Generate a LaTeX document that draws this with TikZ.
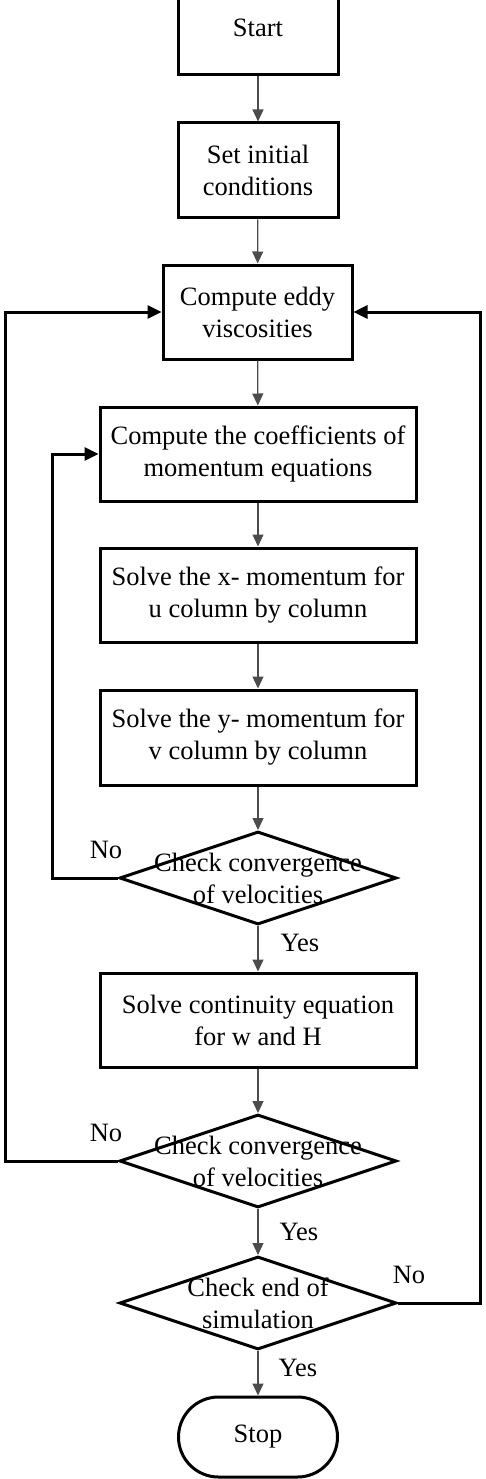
\documentclass[tikz,border=0pt]{standalone}
\usepackage{fontspec}
\setmainfont{Liberation Serif}
\usetikzlibrary{shapes.geometric,shapes.misc,arrows.meta}
\begin{document}
\begin{tikzpicture}[x=1pt,y=1pt,
  every node/.style={font=\fontsize{26.5}{32}\selectfont},
  box/.style={draw, line width=3pt, rectangle, inner sep=0, align=center},
  dia/.style={draw, line width=3pt, diamond, inner sep=0, minimum width=277pt, minimum height=93pt},
  term/.style={draw, line width=3pt, rounded rectangle, inner sep=0, minimum width=159pt, minimum height=80pt},
  txt/.style={align=center, inner sep=0},
  lbl/.style={inner sep=0},
  flow/.style={draw=black!70, line width=1.2pt, -{Triangle[length=12pt,width=11pt]}},
  loop/.style={draw, line width=3pt, -{Triangle[length=14pt,width=13pt]}}
]
\useasboundingbox (0,0) rectangle (485,-1479);
\node[box, minimum width=160pt, minimum height=95pt] (start) at (258,-27.5) {};
\node[txt] at (258,-28) {Start};
\node[box, minimum width=160pt, minimum height=95pt] (init) at (258,-170.5) {Set initial\\conditions};
\node[box, minimum width=189pt, minimum height=94pt] (eddy) at (257.5,-312) {Compute eddy\\viscosities};
\node[box, minimum width=316pt, minimum height=94pt] (coef) at (258,-454) {Compute the coefficients of\\momentum equations};
\node[box, minimum width=316pt, minimum height=94pt] (xmom) at (258,-595) {Solve the x- momentum for\\u column by column};
\node[box, minimum width=316pt, minimum height=95pt] (ymom) at (258,-737.5) {Solve the y- momentum for\\v column by column};
\node[dia] (d1) at (258,-878) {};
\node[txt] at (d1.center) {Check convergence\\of velocities};
\node[box, minimum width=316pt, minimum height=94pt] (cont) at (258,-1020) {Solve continuity equation\\for w and H};
\node[dia] (d2) at (258,-1161) {};
\node[txt] at (d2.center) {Check convergence\\of velocities};
\node[dia] (d3) at (258,-1303) {};
\node[txt] at (d3.center) {Check end of\\simulation};
\node[term] (stop) at (258,-1437) {Stop};

\coordinate (l1a) at (52,-878);
\coordinate (l1b) at (52,-454);
\coordinate (l2a) at (5,-1161);
\coordinate (l2b) at (5,-312);
\coordinate (r3a) at (480,-1303);
\coordinate (r3b) at (480,-312);

\draw[flow] (start) -- (init);
\draw[flow] (init) -- (eddy);
\draw[flow] (eddy) -- (coef);
\draw[flow] (coef) -- (xmom);
\draw[flow] (xmom) -- (ymom);
\draw[flow] (ymom) -- (d1);
\draw[flow] (d1) -- (cont);
\draw[flow] (cont) -- (d2);
\draw[flow] (d2) -- (d3);
\draw[flow] (d3) -- (stop);

\draw[loop] (d1.west) -- (l1a) -- (l1b) -- (coef.west);
\draw[loop] (d2.west) -- (l2a) -- (l2b) -- (eddy.west);
\draw[loop] (d3.east) -- (r3a) -- (r3b) -- (eddy.east);

\node[lbl] (no1) at (106,-850) {No};
\node[lbl] (no2) at (106,-1133) {No};
\node[lbl] (no3) at (409,-1275) {No};
\node[lbl] (yes1) at (300,-943) {Yes};
\node[lbl] (yes2) at (299,-1232) {Yes};
\node[lbl] (yes3) at (298,-1368) {Yes};
\end{tikzpicture}
\end{document}
